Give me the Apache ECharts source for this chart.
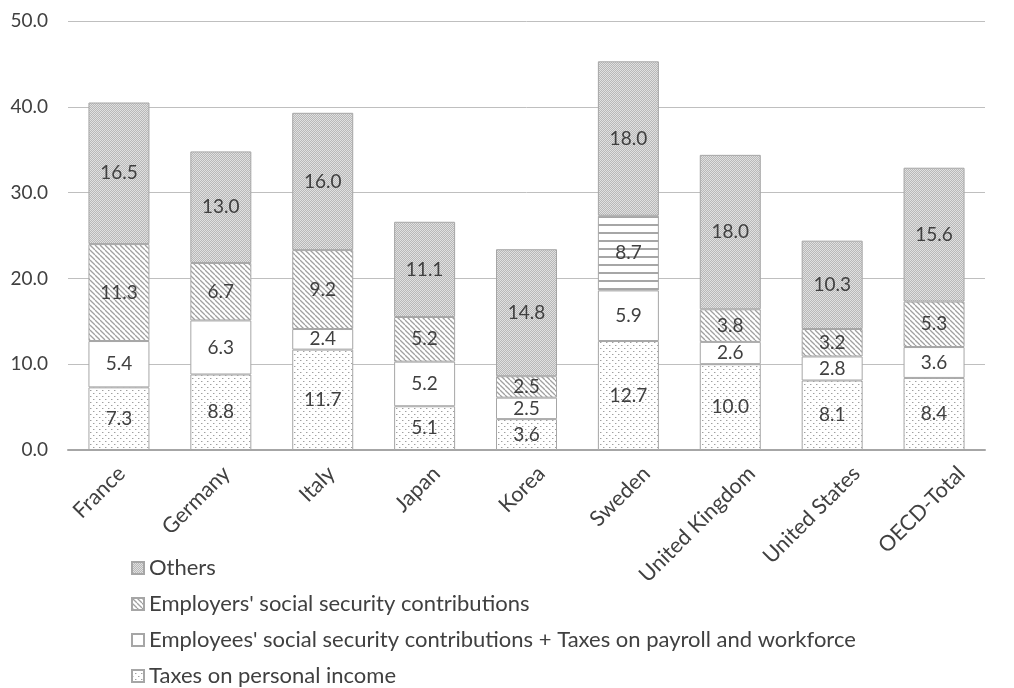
<!DOCTYPE html>
<html><head><meta charset="utf-8">
<script src="https://cdn.jsdelivr.net/npm/echarts@6/dist/echarts.min.js"></script>
<style>html,body{margin:0;padding:0;background:#fff}#c{width:1014px;height:688px}</style>
</head><body><div id="c"></div>
<script>
const categories = ['France','Germany','Italy','Japan','Korea','Sweden','United Kingdom','United States','OECD-Total'];
const taxesPersonal = [7.3, 8.8, 11.7, 5.1, 3.6, 12.7, 10.0, 8.1, 8.4];
const employeesSSC = [5.4, 6.3, 2.4, 5.2, 2.5, 5.9, 2.6, 2.8, 3.6];
const employersSSC = [11.3, 6.7, 9.2, 5.2, 2.5, 8.7, 3.8, 3.2, 5.3];
const others = [16.5, 13.0, 16.0, 11.1, 14.8, 18.0, 18.0, 10.3, 15.6];
const seriesNames = ['Taxes on personal income', "Employees' social security contributions + Taxes on payroll and workforce", "Employers' social security contributions", 'Others'];
const yTicks = [0, 10, 20, 30, 40, 50];

function pat(w, h, draw) {
  const c = document.createElement('canvas'); c.width = w; c.height = h;
  const g = c.getContext('2d'); draw(g, w, h);
  return { image: c, repeat: 'repeat' };
}
const dotPat = pat(6, 6, (g) => { g.fillStyle = '#fff'; g.fillRect(0,0,6,6); g.fillStyle = '#a0a0a0'; g.fillRect(0,0,1,1); g.fillRect(3,3,1,1); g.fillStyle = '#d6d6d6'; g.fillRect(1,0,1,1); g.fillRect(4,3,1,1); });
const diagPat = pat(5, 5, (g) => { g.fillStyle = '#fff'; g.fillRect(0,0,5,5); g.strokeStyle = '#a0a0a0'; g.lineWidth = 1.3;
  for (let k = -5; k <= 5; k += 5) { g.beginPath(); g.moveTo(k, 0); g.lineTo(k + 5, 5); g.stroke(); } });
const othersPat = pat(2, 2, (g) => { g.fillStyle = '#b8b8b8'; g.fillRect(0,0,2,2); g.fillStyle = '#e0e0e0'; g.fillRect(0,0,1,1); g.fillRect(1,1,1,1); });
const hPat = pat(8, 8, (g) => { g.fillStyle = '#fff'; g.fillRect(0,0,8,8); g.fillStyle = '#a6a6a6'; g.fillRect(0,0,8,2); });

const labelStyle = { show: true, position: 'inside', color: '#404040', fontSize: 19, fontFamily: 'Lato', formatter: p => Number(p.value).toFixed(1) };
const common = { type: 'bar', stack: 'total', barWidth: 61, label: labelStyle, itemStyle: { borderColor: '#a6a6a6', borderWidth: 1 }, emphasis: { disabled: true } };

const legendOrder = [seriesNames[3], seriesNames[2], seriesNames[1], seriesNames[0]];
const legendTops = [557, 593, 629, 665];
const legends = legendOrder.map((name, i) => ({
  orient: 'vertical', left: 131, top: legendTops[i], padding: 0, itemWidth: 12, itemHeight: 12,
  data: [name], selectedMode: false,
  textStyle: { fontSize: 22, color: '#404040', fontFamily: 'Lato' },
  icon: 'rect'
}));

const chart = echarts.init(document.getElementById('c'), null, { renderer: 'canvas' });
chart.setOption({
  animation: false,
  textStyle: { fontFamily: 'Lato' },
  grid: [
    { left: 68, right: 29, top: 21, bottom: 238, containLabel: false },
    { left: 69, width: 958, top: 21, bottom: 238, containLabel: false }
  ],
  legend: legends,
  xAxis: [{
    type: 'category', data: categories, gridIndex: 0,
    axisLine: { lineStyle: { color: '#a6a6a6', width: 2 } },
    axisTick: { show: false },
    axisLabel: { show: false }
  }, {
    type: 'category', data: categories, gridIndex: 1,
    axisLine: { show: false }, axisTick: { show: false }, splitLine: { show: false },
    axisLabel: { rotate: 45, fontSize: 21.5, color: '#404040', fontFamily: 'Lato', margin: 20, interval: 0 }
  }],
  yAxis: [{
    type: 'value', gridIndex: 0, min: yTicks[0], max: yTicks[yTicks.length - 1], interval: 10,
    axisLine: { show: false }, axisTick: { show: false },
    splitLine: { lineStyle: { color: '#bfbfbf', width: 1 } },
    axisLabel: { fontSize: 19, color: '#404040', fontFamily: 'Lato', margin: 20, formatter: v => v.toFixed(1) }
  }, {
    type: 'value', gridIndex: 1, show: false, min: 0, max: 50
  }],
  series: [
    Object.assign({}, common, { name: seriesNames[0], data: taxesPersonal, itemStyle: Object.assign({}, common.itemStyle, { color: dotPat }) }),
    Object.assign({}, common, { name: seriesNames[1], data: employeesSSC, itemStyle: Object.assign({}, common.itemStyle, { color: '#ffffff' }) }),
    Object.assign({}, common, { name: seriesNames[2], data: employersSSC.map((v, i) => categories[i] === 'Sweden' ? { value: v, itemStyle: { color: hPat } } : v), itemStyle: Object.assign({}, common.itemStyle, { color: diagPat }) }),
    Object.assign({}, common, { name: seriesNames[3], data: others, itemStyle: Object.assign({}, common.itemStyle, { color: othersPat }) })
  ]
});
</script></body></html>
